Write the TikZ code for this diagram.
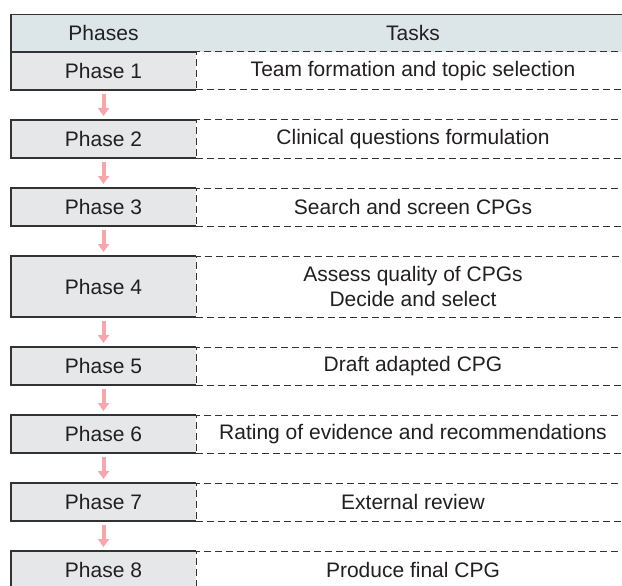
\documentclass[tikz,border=0pt]{standalone}
\usepackage{fontspec}
\setmainfont{Liberation Sans}
\usetikzlibrary{arrows.meta}
\definecolor{hdrfill}{HTML}{DCE6E8}
\definecolor{phfill}{HTML}{E6E7E9}
\definecolor{arrcol}{HTML}{F7A7AC}
\definecolor{ink}{HTML}{231F20}
\definecolor{edge}{HTML}{333333}
\begin{document}
\begin{tikzpicture}[x=1pt,y=1pt,
  txt/.style={font=\fontsize{21}{25.5}\selectfont, text=ink, inner sep=0pt, outer sep=0pt, anchor=north west, align=center},
  hdrbox/.style={txt, fill=hdrfill, minimum height=37.5pt},
  phasebox/.style={txt, fill=phfill, minimum width=185pt},
  taskbox/.style={txt, draw=edge, line width=1pt, dash pattern=on 7pt off 4pt, minimum width=434pt},
  solidedge/.style={draw=edge, line width=1.2pt, line join=miter},
  flow/.style={draw=arrcol, line width=4pt, -{Triangle[length=8pt,width=11pt]}, shorten <=4pt, shorten >=4pt}
]
\useasboundingbox (0,0) rectangle (622,-586);
\clip (0,0) rectangle (622,-586);

% header
\node[hdrbox, minimum width=185pt] (hp) at (11,-14.5) {Phases};
\node[hdrbox, minimum width=434pt] (ht) at (hp.north east) {Tasks};
\draw[solidedge] (ht.north east) -- (hp.north west) -- (hp.south west);

% rows
\foreach \i/\y/\h/\t in {
  1/52/38/{Team formation and topic selection},
  2/120/38/{Clinical questions formulation},
  3/188/38/{Search and screen CPGs},
  4/256/61/{Assess quality of CPGs\\Decide and select},
  5/347/38/{Draft adapted CPG},
  6/415/38/{Rating of evidence and recommendations},
  7/483/38/{External review},
  8/551/38/{Produce final CPG}} {
  \node[phasebox, minimum height=\h pt] (p\i) at (11,-\y) {Phase \i};
  \node[taskbox, minimum height=\h pt] (t\i) at (p\i.north east) {\t};
  \draw[solidedge] (p\i.north east) -- (p\i.north west) -- (p\i.south west) -- (p\i.south east);
}

% arrows
\foreach \i [evaluate=\i as \j using int(\i+1)] in {1,...,7}
  \draw[flow] (p\i) -- (p\j);
\end{tikzpicture}
\end{document}
